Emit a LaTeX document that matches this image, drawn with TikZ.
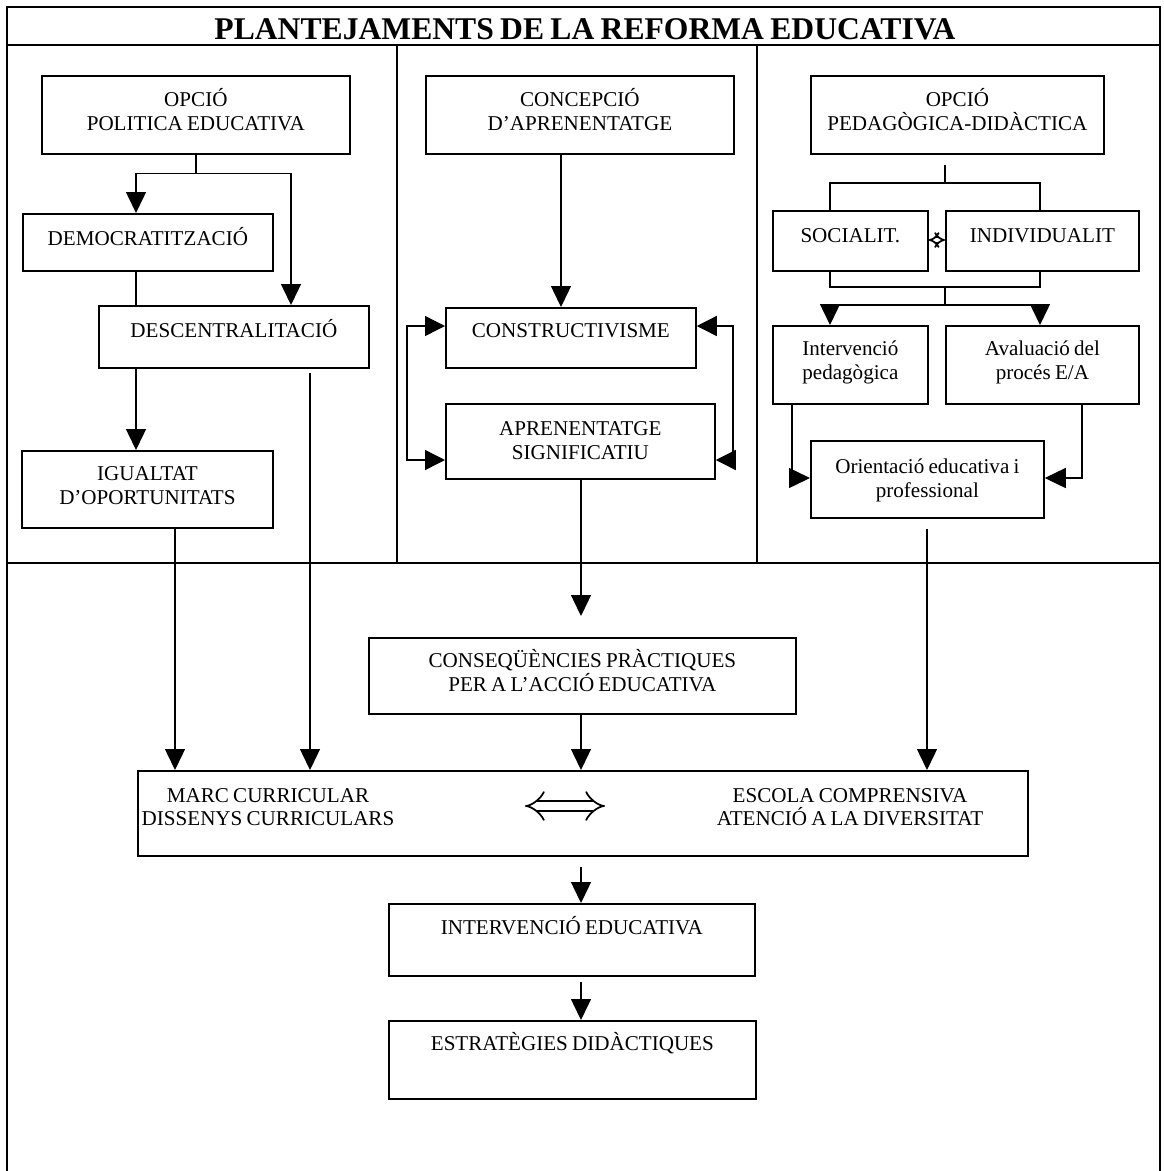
\documentclass[tikz,border=0pt]{standalone}
\usepackage{fontspec}
\setmainfont[WordSpace=0.8]{Liberation Serif}
\usetikzlibrary{arrows.meta}
\newlength{\px}\setlength{\px}{0.02cm}

\begin{document}
\begin{tikzpicture}[x=0.02cm, y=-0.02cm, every node/.style={font=\fontsize{12}{13.6}\selectfont},
	caixa/.style n args={3}{draw, line width=1pt, inner sep=0pt, align=flush center, anchor=north west, text width=#1\px, text height=#2\px, text depth=#3\px},
	lletra/.style={inner sep=0pt, align=flush center, anchor=base, text width=#1\px},
	vora/.style={line width=1pt},
	fletxa/.style={-{Triangle[width=0.4cm, length=0.42cm]}, line width=0.8pt},
	dfletxa/.style={{Triangle[width=0.4cm, length=0.4cm]}-{Triangle[width=0.4cm, length=0.4cm]}, line width=0.8pt},
	doble/.style={{Implies}-{Implies}, double, double distance=#1, line width=1pt}]

		\useasboundingbox (0,0) rectangle (1164,1171);

		% marc general
		\draw[vora] (7,1171) -- (7,7) -- (1160,7) -- (1160,1171);
		\draw[vora] (7,45) -- (1160,45);
		\draw[vora] (397,45) -- (397,563);
		\draw[vora] (757,45) -- (757,563);
		\draw[vora] (7,563) -- (1160,563);
		\node[anchor=base, font=\fontsize{18}{20}\selectfont\bfseries] (titol) at (585,39) {PLANTEJAMENTS DE LA REFORMA EDUCATIVA};

		% columna politica
		\node[caixa={308}{31}{47}] (pol) at (41,75) {OPCIÓ\\POLITICA EDUCATIVA};
		\node[caixa={250}{32}{25}] (dem) at (22,213) {DEMOCRATITZACIÓ};
		\node[caixa={270}{32}{30}] (desc) at (98,305) {DESCENTRALITACIÓ};
		\node[caixa={251}{30}{47}] (igu) at (21,450) {IGUALTAT\\D’OPORTUNITATS};

		% columna aprenentatge
		\node[caixa={308}{31}{47}] (conc) at (425,75) {CONCEPCIÓ\\D’APRENENTATGE};
		\node[caixa={250}{30}{30}] (cons) at (445,307) {CONSTRUCTIVISME};
		\node[caixa={269}{32}{43}] (apr) at (445,403) {APRENENTATGE\\SIGNIFICATIU};

		% columna pedagogica
		\node[caixa={293}{31}{47}] (ped) at (810,75) {OPCIÓ\\PEDAGÒGICA-DIDÀCTICA};
		\node[caixa={155}{32}{28}] (soc) at (772,210) {SOCIALIT.};
		\node[caixa={193}{32}{28}] (ind) at (945,210) {INDIVIDUALIT};
		\node[caixa={155}{30}{48}] (inter) at (772,325) {Intervenció\\pedagògica};
		\node[caixa={193}{30}{48}] (aval) at (945,325) {Avaluació del\\procés E/A};
		\node[caixa={233}{33}{44}] (ori) at (810,440) {Orientació educativa i\\professional};

		% part inferior
		\node[caixa={427}{30}{46}] (csq) at (368,637) {CONSEQÜÈNCIES PRÀCTIQUES\\PER A L’ACCIÓ EDUCATIVA};
		\node[caixa={890}{0}{85}] (marc) at (137,770) {};
		\node[lletra=300] (curr) at (268,802) {MARC CURRICULAR\\DISSENYS CURRICULARS};
		\node[lletra=300] (esc) at (850,802) {ESCOLA COMPRENSIVA\\ATENCIÓ A LA DIVERSITAT};
		\node[caixa={366}{31}{41}] (intv) at (388,903) {INTERVENCIÓ EDUCATIVA};
		\node[caixa={367}{30}{48}] (estr) at (388,1020) {ESTRATÈGIES DIDÀCTIQUES};

		\coordinate (dA) at (525,806);
		\coordinate (dB) at (605,806);
		\coordinate (sdesc) at (310,373);
		\coordinate (sapr) at (581,616);
		\coordinate (nus) at (945,305);

		% fletxes
		\draw[fletxa] (pol.south) -- ++(0,19) -| (dem.north -| 136,0);
		\draw[fletxa] (pol.south) -- ++(0,19) -| (desc.north -| 291,0);
		\draw[line width=0.8pt] (dem.south -| 136,0) -- (desc.north -| 136,0);
		\draw[fletxa] (desc.south -| 136,0) -- (igu.north -| 136,0);
		\draw[fletxa] (sdesc) -- (marc.north -| sdesc);
		\draw[fletxa] (igu.south -| 175,0) -- (marc.north -| 175,0);

		\draw[fletxa] (conc.south -| 561,0) -- (cons.north -| 561,0);
		\draw[dfletxa] (cons.west |- 0,326) -- (407,326) -- (407,460) -- (apr.west |- 0,460);
		\draw[dfletxa] (cons.east |- 0,326) -- (733,326) -- (733,460) -- (apr.east |- 0,460);
		\draw[fletxa] (apr.south -| sapr) -- (sapr);
		\draw[fletxa] (csq.south -| 581,0) -- (marc.north -| 581,0);

		\draw[line width=0.8pt, shorten <=0.2cm] (ped.south -| 945,0) -- (945,183);
		\draw[line width=0.8pt] (soc.north -| 830,0) |- (945,183) -| (ind.north -| 1040,0);
		\draw[doble=2pt] (soc.east |- 0,240) -- (ind.west |- 0,240);
		\draw[line width=0.8pt] (soc.south -| 830,0) |- (945,287) -| (ind.south -| 1040,0);
		\draw[line width=0.8pt] (945,287) -- (nus);
		\draw[fletxa] (nus) -| (inter.north -| 830,0);
		\draw[fletxa] (nus) -| (aval.north -| 1040,0);
		\draw[fletxa] (inter.south -| 792,0) |- (ori.west |- 0,478);
		\draw[fletxa] (aval.south -| 1082,0) |- (ori.east |- 0,478);
		\draw[fletxa, shorten <=0.2cm] (ori.south -| 927,0) -- (marc.north -| 927,0);

		\draw[doble=5pt] (dA) -- (dB);
		\draw[fletxa, shorten <=0.2cm] (marc.south -| 581,0) -- (intv.north -| 581,0);
		\draw[fletxa, shorten <=0.1cm] (intv.south -| 581,0) -- (estr.north -| 581,0);
	\end{tikzpicture}
\end{document}
